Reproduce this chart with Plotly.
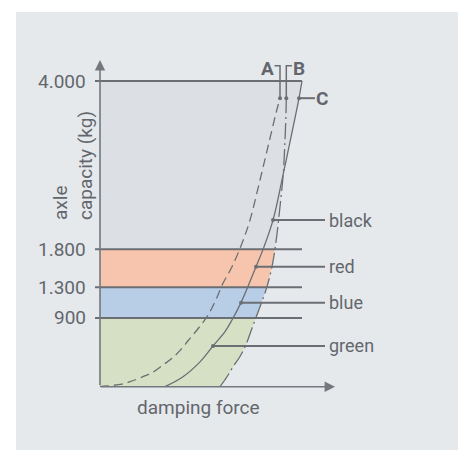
import numpy as np
import plotly.graph_objects as go

# damping force (arbitrary units) against axle capacity (kg)
a_force = [0, 7, 22, 30, 43, 52, 63, 72, 82, 88, 97, 107, 115, 123, 132, 142, 150, 160, 168, 176, 180]
a_kg = [0, 9, 35, 65, 131, 183, 284, 371, 502, 601, 742, 916, 1112, 1353, 1570, 1876, 2181, 2705, 3141, 3580, 3775]

b_force = [120, 127, 133, 140, 146, 152, 160, 167, 172, 176, 180, 183.3, 185, 186, 186.3]
b_kg = [0, 130, 260, 395, 550, 765, 1045, 1310, 1570, 1895, 2355, 2795, 3230, 3580, 3775]

c_force = [65, 83, 100, 113, 125, 132, 141, 156, 164, 173, 182, 189, 196, 199, 202]
c_kg = [0, 130, 325, 533, 720, 873, 1100, 1570, 1830, 2180, 2705, 3140, 3580, 3775, 4000]

# capacity classes
levels = [4000, 1800, 1300, 900]
level_labels = ['4.000', '1.800', '1.300', '900']
bands = [(1800, 4000, '#dce0e4'), (1300, 1800, '#f7c5ad'), (900, 1300, '#b8cde6'), (0, 900, '#d6e0c4')]
class_names = ['black', 'red', 'blue', 'green']
class_kg = [2180, 1570, 1100, 533]
curve_names = ['A', 'B', 'C']

LINE = '#6b6f74'
TEXT = '#63676d'
FONT = 'Roboto, Arial, sans-serif'


def envelope(kg):
    xb = np.interp(kg, b_kg, b_force)
    xc = np.interp(kg, c_kg, c_force)
    return np.maximum(xb, xc)


fig = go.Figure()

# coloured bands, bounded on the right by the outer curve
for lo, hi, col in bands:
    ks = sorted(set([lo, hi] + [k for k in b_kg + c_kg if lo < k < hi]))
    ks = np.array(ks, dtype=float)
    xs = envelope(ks)
    fig.add_trace(go.Scatter(x=[0] + list(xs) + [0], y=[lo] + list(ks) + [hi],
                             mode='lines', fill='toself', fillcolor=col,
                             line=dict(width=0), hoverinfo='skip'))

# curves
fig.add_trace(go.Scatter(x=a_force, y=a_kg, mode='lines', line_shape='spline',
                         line=dict(color=LINE, width=1.3, dash='9px,5px')))
fig.add_trace(go.Scatter(x=b_force, y=b_kg, mode='lines', line_shape='spline',
                         line=dict(color=LINE, width=1.3, dash='16px,4px,2px,4px')))
fig.add_trace(go.Scatter(x=c_force, y=c_kg, mode='lines', line_shape='spline',
                         line=dict(color=LINE, width=1.3)))

# class lines
for lv in levels:
    fig.add_trace(go.Scatter(x=[-5, c_force[-1]], y=[lv, lv], mode='lines',
                             line=dict(color=LINE, width=2)))

# class callouts on curve C
for name, kg in zip(class_names, class_kg):
    xc = float(np.interp(kg, c_kg, c_force))
    fig.add_trace(go.Scatter(x=[xc, 225], y=[kg, kg], mode='lines',
                             line=dict(color=LINE, width=2)))
    fig.add_trace(go.Scatter(x=[xc], y=[kg], mode='markers',
                             marker=dict(color=LINE, size=4)))

# A / B / C callouts at the top of the curves
top_kg = a_kg[-1]
xa, xb = a_force[-1], b_force[-1]
xc_top = float(np.interp(top_kg, c_kg, c_force))
fig.add_trace(go.Scatter(x=[174.5, xa, xa], y=[4200, 4200, top_kg], mode='lines',
                         line=dict(color=LINE, width=1.5)))
fig.add_trace(go.Scatter(x=[192, xb, xb], y=[4200, 4200, top_kg], mode='lines',
                         line=dict(color=LINE, width=1.5)))
fig.add_trace(go.Scatter(x=[xc_top, 215], y=[top_kg, top_kg], mode='lines',
                         line=dict(color=LINE, width=2)))
fig.add_trace(go.Scatter(x=[xa, xb, xc_top], y=[top_kg] * 3, mode='markers',
                         marker=dict(color=LINE, size=4)))

annotations = []
# axes with arrows
annotations.append(dict(x=0, y=4275, ax=0, ay=0, axref='x', ayref='y', xref='x', yref='y',
                        text='', showarrow=True, arrowhead=2, arrowsize=1.3,
                        arrowwidth=1.6, arrowcolor='#74787d', standoff=0))
annotations.append(dict(x=235, y=0, ax=0, ay=0, axref='x', ayref='y', xref='x', yref='y',
                        text='', showarrow=True, arrowhead=2, arrowsize=1.3,
                        arrowwidth=1.6, arrowcolor='#74787d', standoff=0))

for lv, lab in zip(levels, level_labels):
    annotations.append(dict(x=-12, y=lv, text=lab, showarrow=False, xanchor='right',
                            yanchor='middle', font=dict(size=19, color=TEXT, family=FONT)))

for name, kg in zip(class_names, class_kg):
    annotations.append(dict(x=227, y=kg, text=name, showarrow=False, xanchor='left',
                            yanchor='middle', font=dict(size=18, color=TEXT, family=FONT)))

for name, xpos, kg in zip(curve_names, [167.5, 198.5, 221.5], [4170, 4170, top_kg]):
    annotations.append(dict(x=xpos, y=kg, text='<b>' + name + '</b>', showarrow=False,
                            xanchor='center', yanchor='middle',
                            font=dict(size=19, color=TEXT, family=FONT)))

annotations.append(dict(x=98, y=-266, text='damping force', showarrow=False,
                        xanchor='center', yanchor='middle',
                        font=dict(size=19, color=TEXT, family=FONT)))
annotations.append(dict(x=-27, y=2888, text='axle<br>capacity (kg)', showarrow=False,
                        textangle=-90, align='left', xanchor='center', yanchor='middle',
                        font=dict(size=19, color=TEXT, family=FONT)))

fig.update_layout(
    width=462, height=450,
    margin=dict(l=0, r=0, t=0, b=0, autoexpand=False),
    paper_bgcolor='white', plot_bgcolor='rgba(0,0,0,0)',
    showlegend=False,
    xaxis=dict(range=[-100, 362], visible=False, fixedrange=True),
    yaxis=dict(range=[-828.3, 5060], visible=False, fixedrange=True),
    shapes=[dict(type='rect', xref='paper', yref='paper', x0=16 / 462, x1=458 / 462,
                 y0=0, y1=1 - 12 / 450, fillcolor='#e6e9ec', line=dict(width=0), layer='below')],
    annotations=annotations,
)

# the page body has a default margin; drop it so the figure sits at the window corner
fig.write_html('out.html', config={'displayModeBar': False},
               post_script="document.body.style.margin='0';")
